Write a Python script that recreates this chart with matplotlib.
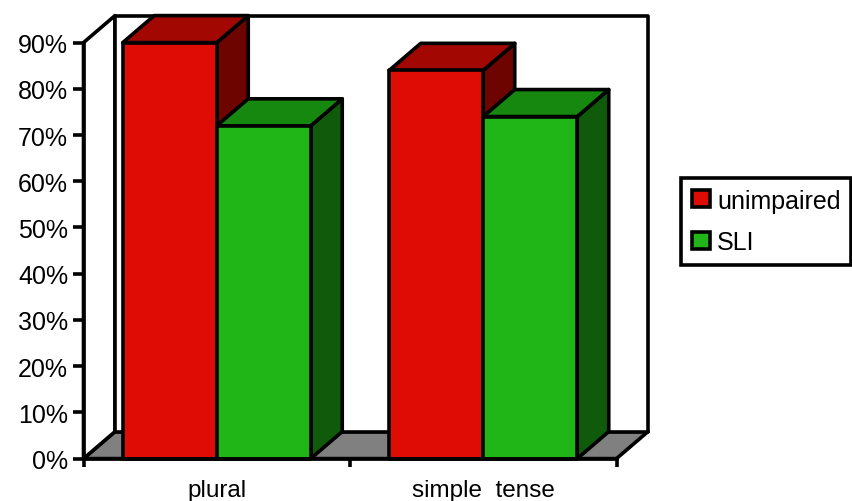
import matplotlib
matplotlib.use('Agg')
import matplotlib.pyplot as plt
from matplotlib.patches import Polygon, Patch

plt.rcParams['font.family'] = ['Liberation Sans', 'DejaVu Sans']

categories = ['plural', 'simple  tense']
series = ['unimpaired', 'SLI']
unimpaired = [90, 84]
sli = [72, 74]
y_ticks = [0, 10, 20, 30, 40, 50, 60, 70, 80, 90]

W, H = 852, 502
fig = plt.figure(figsize=(W / 100, H / 100), dpi=100)
# plot area in pixels: x 83.5..616.5, y 43.6..459.6
ax = fig.add_axes([83.5 / W, 1 - 459.6 / H, 533 / W, 416 / H])
ax.set_xlim(0, 2)
ax.set_ylim(0, 90)

lw = 2.6
dx = 31.5 / 533 * 2   # depth offset in data units
dy = 27 / 416 * 90
bar_w = 94 / 266.5
top = 90


def poly(pts, fc, z):
    ax.add_patch(Polygon(pts, closed=True, facecolor=fc, edgecolor='black',
                         linewidth=lw, joinstyle='round', clip_on=False, zorder=z))


# floor and walls
poly([(0, 0), (dx, dy), (2 + dx, dy), (2, 0)], '#808080', 1)
poly([(0, 0), (dx, dy), (dx, top + dy), (0, top)], 'white', 1)
poly([(dx, dy), (dx, top + dy), (2 + dx, top + dy), (2 + dx, dy)], 'white', 1)

colors = {
    'unimpaired': ('#DF0B05', '#A30702', '#6E0400'),
    'SLI': ('#20B617', '#17880F', '#0F5A0B'),
}

z = 3
for i in range(len(categories)):
    for j, vals in enumerate([unimpaired, sli]):
        front, roof, side = colors[series[j]]
        x0 = i + 0.5 - bar_w + j * bar_w
        x1 = x0 + bar_w
        v = vals[i]
        poly([(x1, 0), (x1 + dx, dy), (x1 + dx, v + dy), (x1, v)], side, z)
        poly([(x0, v), (x0 + dx, v + dy), (x1 + dx, v + dy), (x1, v)], roof, z)
        poly([(x0, 0), (x0, v), (x1, v), (x1, 0)], front, z)
        z += 1

for s in ['top', 'right']:
    ax.spines[s].set_visible(False)
for s in ['left', 'bottom']:
    ax.spines[s].set_linewidth(lw)
    ax.spines[s].set_zorder(20)

ax.patch.set_visible(False)
ax.set_yticks(y_ticks)
ax.set_yticklabels([f'{v}%' for v in y_ticks], fontsize=18)
ax.set_xticks([0, 1, 2])
ax.set_xticklabels([])
ax.set_xticks([0.5, 1.5], minor=True)
ax.set_xticklabels(categories, minor=True, fontsize=17.5)
ax.tick_params(axis='y', length=8, width=lw, pad=3)
ax.tick_params(axis='x', which='major', length=6, width=lw)
ax.tick_params(axis='x', which='minor', length=0, pad=14.5)

handles = [Patch(facecolor=colors[s][0], edgecolor='black', linewidth=lw) for s in series]
leg = ax.legend(handles, series, loc='upper left',
                bbox_to_anchor=(681 / W, 1 - 179 / H), bbox_transform=fig.transFigure,
                borderaxespad=0, fancybox=False, framealpha=1, edgecolor='black',
                fontsize=18, handlelength=0.72, handleheight=0.65, handletextpad=0.3,
                labelspacing=0.72, borderpad=0.42)
leg.get_frame().set_linewidth(lw)

fig.savefig('out.png', dpi=100)
